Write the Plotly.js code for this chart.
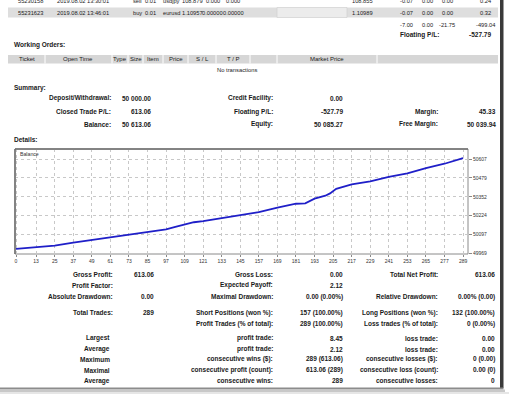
<!DOCTYPE html>
<html><head><meta charset="utf-8">
<script src="https://cdn.plot.ly/plotly-3.0.1.min.js"></script>
<style>html,body{margin:0;padding:0;background:#fff;}#chart{width:509px;height:397px;}</style>
</head><body><div id="chart"></div>
<script>
// ---- data ----
const tradeNo = [0, 13, 25, 37, 49, 61, 73, 85, 97, 103, 109, 115, 121, 133, 145, 157, 169, 181, 187, 193, 200, 203, 207, 217, 229, 241, 253, 265, 277, 289];
const balance = [50000, 50011, 50022, 50042, 50060, 50076, 50096, 50112, 50132, 50148, 50166, 50180, 50188, 50207, 50227, 50249, 50278, 50305, 50308, 50339, 50359, 50375, 50406, 50436, 50456, 50487, 50510, 50546, 50575, 50613];
const xTickVals = [0, 13, 25, 37, 49, 61, 73, 85, 97, 109, 121, 133, 145, 157, 169, 181, 193, 205, 217, 229, 241, 253, 265, 277, 289];
const yTickVals = [49969, 50097, 50224, 50352, 50479, 50607];

const openRow1 = ["55230158", "2019.08.02 13:30:01", "sell", "0.01", "usdjpy", "108.879", "0.000", "0.000", "108.855", "-0.07", "0.00", "0.00", "0.24"];
const openRow2 = ["55231623", "2019.08.02 13:46:01", "buy", "0.01", "eurusd", "1.10957", "0.00000", "0.00000", "1.10989", "-0.07", "0.00", "0.00", "0.32"];
const openTotals = ["-7.00", "0.00", "-21.75", "-499.04"];
const headerCells = ["Ticket", "Open Time", "Type", "Size", "Item", "Price", "S / L", "T / P", "Market Price"];

const summaryLabels = [["Deposit/Withdrawal:", "Credit Facility:", ""], ["Closed Trade P/L:", "Floating P/L:", "Margin:"], ["Balance:", "Equity:", "Free Margin:"]];
const summaryValues = [["50 000.00", "0.00", ""], ["613.06", "-527.79", "45.33"], ["50 613.06", "50 085.27", "50 039.94"]];

const statLabels = [
  ["Gross Profit:", "Gross Loss:", "Total Net Profit:"],
  ["Profit Factor:", "Expected Payoff:", ""],
  ["Absolute Drawdown:", "Maximal Drawdown:", "Relative Drawdown:"],
  ["Total Trades:", "Short Positions (won %):", "Long Positions (won %):"],
  ["", "Profit Trades (% of total):", "Loss trades (% of total):"],
  ["Largest", "profit trade:", "loss trade:"],
  ["Average", "profit trade:", "loss trade:"],
  ["Maximum", "consecutive wins ($):", "consecutive losses ($):"],
  ["Maximal", "consecutive profit (count):", "consecutive loss (count):"],
  ["Average", "consecutive wins:", "consecutive losses:"]
];
const statValues = [
  ["613.06", "0.00", "613.06"],
  ["", "2.12", ""],
  ["0.00", "0.00 (0.00%)", "0.00% (0.00)"],
  ["289", "157 (100.00%)", "132 (100.00%)"],
  ["", "289 (100.00%)", "0 (0.00%)"],
  ["", "8.45", "0.00"],
  ["", "2.12", "0.00"],
  ["", "289 (613.06)", "0 (0.00)"],
  ["", "613.06 (289)", "0.00 (0)"],
  ["", "289", "0"]
];

// ---- layout helpers (pixel -> paper) ----
const W = 509, H = 397, L = 15, R = 468, T = 149, B = 254;
const X = p => (p - L) / (R - L);
const Y = p => (B - p) / (B - T);
const FONT = "Liberation Sans";
const ann = [];
function txt(s, x, y, anchor, bold, size, color) {
  if (!s) return;
  ann.push({text: s, xref: 'paper', yref: 'paper', x: X(x), y: Y(y), xanchor: anchor, yanchor: 'middle',
    showarrow: false, font: {family: FONT, size: size || 6.5, color: color || '#1a1a1a', weight: bold ? 'bold' : 'normal'}});
}
const shapes = [];
function rect(x0, y0, x1, y1, fill, line, lw) {
  shapes.push({type: 'rect', xref: 'paper', yref: 'paper', x0: X(x0), x1: X(x1), y0: Y(y0), y1: Y(y1),
    fillcolor: fill, line: {width: lw || 0, color: line || 'rgba(0,0,0,0)'}, layer: 'below'});
}
function lineS(x0, y0, x1, y1, color, w) {
  shapes.push({type: 'line', xref: 'paper', yref: 'paper', x0: X(x0), x1: X(x1), y0: Y(y0), y1: Y(y1),
    line: {width: w, color: color}, layer: 'above'});
}

// open-trades rows
const openX = [30, 83, 137, 150, 171, 192.5, 212.5, 233, 362, 406, 427, 447, 485];
rect(8, 7.5, 498, 17.5, '#dedede');
rect(277, 7.5, 347, 17.5, '#ececec', '#cfcfcf', 0.6);
openRow1.forEach((s, i) => txt(s, openX[i], 1, 'center', false, 5.7));
openRow2.forEach((s, i) => txt(s, openX[i], 12.5, 'center', false, 5.7));
[406, 427, 447, 485].forEach((x, i) => txt(openTotals[i], x, 25, 'center', false, 5.7));
txt("Floating P/L:", 398, 35, 'left', true);
txt("-527.79", 493, 35, 'right', true);

// working orders
txt("Working Orders:", 12, 45, 'left', true);
rect(8, 55, 498, 63.5, '#d6d6d6');
[45, 112, 128, 143, 163, 188, 216, 250, 277, 377].forEach(x => shapes.push({type: 'line', xref: 'paper', yref: 'paper', x0: X(x), x1: X(x), y0: Y(55), y1: Y(63.5), line: {width: 1, color: '#ffffff'}, layer: 'below'}));
const headX = [27, 78, 120, 136, 153, 176, 202, 233, 327];
headerCells.forEach((s, i) => txt(s, headX[i], 59.3, 'center', false, 6));
txt("No transactions", 237, 70, 'center', false, 5.8);

// summary
txt("Summary:", 12, 88, 'left', true);
const sumY = [98.3, 111.7, 124.3];
const labRight = [113, 275, 440];
const valRight = [153, 345, 498];
summaryLabels.forEach((row, r) => row.forEach((s, c) => txt(s, labRight[c], sumY[r], 'right', true)));
summaryValues.forEach((row, r) => row.forEach((s, c) => txt(s, valRight[c], sumY[r], 'right', true)));

// details
txt("Details:", 12, 139, 'left', true);
txt("Balance", 18, 153.5, 'left', false, 5.2, '#333');

// stats
const statY = [274, 285, 296.7, 312.7, 324.3, 338.3, 349, 359.3, 370, 380.7];
const sLabRight = [115, 275, 440];
const sValRight = [156, 345, 497];
statLabels.forEach((row, r) => row.forEach((s, c) => txt(s, r >= 5 && c === 0 ? 112 : sLabRight[c], statY[r], 'right', true)));
statValues.forEach((row, r) => row.forEach((s, c) => txt(s, sValRight[c], statY[r], 'right', true)));

// plot frame
rect(L, T, R, B, 'rgba(0,0,0,0)', '#8a8a8a', 1);
lineS(L, T, R, T, '#6e6e6e', 1.5);
lineS(L, T, L, B, '#6e6e6e', 1.5);

// page edges (screenshot border/shadow)
rect(500, -2, 503.5, 388, '#3a3a3a');
rect(0, 387.5, 503.5, 389.5, '#8c8c8c');
rect(0, 389.5, 505, 392, '#c8c8c8');
rect(0, 392, 509, 394, '#e6e6e6');

const trace = {x: tradeNo, y: balance, type: 'scatter', mode: 'lines',
  line: {color: '#1f1fc8', width: 1.8}, hoverinfo: 'skip'};

const layout = {
  width: W, height: H,
  margin: {l: L, r: W - R, t: T, b: H - B, pad: 0},
  paper_bgcolor: '#ffffff', plot_bgcolor: '#ffffff',
  showlegend: false,
  xaxis: {range: [-0.65, 292.2], tickvals: xTickVals, ticktext: xTickVals.map(String), ticks: 'outside', ticklen: 2,
    tickcolor: '#888', showgrid: true, gridcolor: '#c8c8c8', griddash: 'dot', gridwidth: 1, zeroline: false,
    showline: false, tickfont: {family: FONT, size: 5, color: '#333'}, fixedrange: true},
  yaxis: {range: [49965.6, 50674.5], side: 'right', tickvals: yTickVals, ticktext: yTickVals.map(String), ticks: 'outside',
    ticklen: 3, tickcolor: '#888', showgrid: true, gridcolor: '#c8c8c8', griddash: 'dot', gridwidth: 1, zeroline: false,
    showline: false, tickfont: {family: FONT, size: 5, color: '#333'}, fixedrange: true},
  annotations: ann, shapes: shapes
};
Plotly.newPlot('chart', [trace], layout, {staticPlot: true, displayModeBar: false});
</script></body></html>
